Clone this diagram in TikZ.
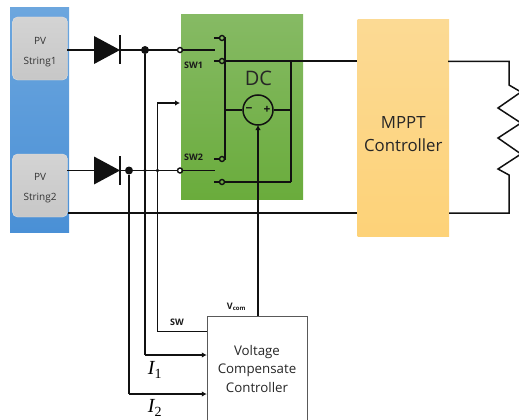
\documentclass[tikz,border=0pt]{standalone}
\usepackage{fontspec}
\setmainfont{Open Sans}
\newfontfamily\timesf{Liberation Serif}
\usetikzlibrary{arrows.meta,calc}
\definecolor{wirec}{HTML}{111111}
\tikzset{
  wire/.style={draw=wirec,line width=1.5pt},
  heavy/.style={draw=wirec,line width=1.9pt},
  arr/.style={wire,-{Latex[length=5pt,width=5.5pt]}},
  terminal/.style={circle,draw=wirec,line width=1.4pt,minimum size=5pt,inner sep=0pt},
  bigdot/.style={circle,fill=wirec,minimum width=5.5pt,minimum height=8pt,inner sep=0pt},
  smalldot/.style={circle,fill=wirec,minimum size=3.6pt,inner sep=0pt},
  pvbox/.style={rectangle,rounded corners=5pt,minimum width=55pt,minimum height=63pt,inner sep=0pt,
     top color=black!17,bottom color=black!22,draw=black!12},
  pvtext/.style={align=center,inner sep=0pt,font=\fontsize{10}{20.5}\selectfont,text=black!80},
  lbl/.style={inner sep=0pt,font=\fontsize{9}{10}\selectfont\bfseries,text=black!90},
}
\begin{document}
\begin{tikzpicture}[x=1pt,y=-1pt]
\useasboundingbox (0,0) rectangle (519,420);
% panels
\shade[top color={rgb,255:red,108;green,166;blue,222},bottom color={rgb,255:red,74;green,144;blue,214}] (10,8) rectangle (69,232);
\node[pvbox] (pv1) at (40,48.5) {};
\node[pvbox] (pv2) at (40,185.5) {};
\node[pvtext] at (40,52) {PV\\String1};
\node[pvtext] at (40,188) {PV\\String2};
\node[rectangle,minimum width=122pt,minimum height=184pt,inner sep=0pt,top color={rgb,255:red,134;green,186;blue,100},bottom color={rgb,255:red,106;green,172;blue,60}] (dc) at (242,107) {};
\node[rectangle,minimum width=91.5pt,minimum height=216pt,inner sep=0pt,top color={rgb,255:red,252;green,218;blue,148},bottom color={rgb,255:red,253;green,210;blue,120}] (mppt) at (403.25,128) {};
\node[align=center,inner sep=0pt,font=\fontsize{16.8}{23}\selectfont,text=black!85] (mpptt) at (403.25,134) {MPPT\\Controller};
\node[rectangle,draw=black!65,line width=0.8pt,fill=white,minimum width=100.5pt,minimum height=120pt,inner sep=0pt,anchor=north west] (vcc) at (206.8,315.7) {};
\node[align=center,font=\fontsize{13.3}{18.4}\selectfont,text=black!85,inner sep=0pt] (vcct) at (257,369) {Voltage\\Compensate\\Controller};
% coordinates
\coordinate (a1) at (67,50);
\coordinate (d1in) at (94,50);
\coordinate (d1out) at (120,50);
\coordinate (a2) at (67,170.5);
\coordinate (d2in) at (94,170.5);
\coordinate (d2out) at (120,170.5);
\node[terminal] (s1in) at (180,50) {};
\node[terminal] (s2in) at (180,170.5) {};
\node[terminal] (t1) at (222,38) {};
\node[terminal] (t2) at (222,61) {};
\node[terminal] (t3) at (222,159) {};
\node[terminal] (t4) at (222,182) {};
\coordinate (s1arm) at (215,50);
\coordinate (s2arm) at (215,170.5);
\coordinate (t1s) at (214,38);
\coordinate (t2s) at (214,61);
\coordinate (t3s) at (214,159);
\coordinate (t4s) at (214,182);
\coordinate (bus1) at (225,38);
\coordinate (bus2) at (225,159);
\coordinate (busm) at (225,110);
\coordinate (r1) at (291,61);
\coordinate (r2) at (291,182);
\coordinate (rm) at (291,110);
\node[circle,draw=wirec,line width=1.5pt,minimum size=30pt,inner sep=0pt] (src) at (258,110) {};
\node[smalldot,minimum size=3pt] (j3) at (258,182) {};
\node[bigdot] (j1) at (145,50) {};
\node[bigdot] (j2) at (129,170.5) {};
\node[smalldot] (j4) at (145,170.5) {};
\node[smalldot] (j5) at (157.5,170.5) {};
\coordinate (swt) at (157.5,103);
\coordinate (swb) at (157.5,331.7);
\coordinate (dcl) at (180,103);
\coordinate (i1b) at (145,355);
\coordinate (i2b) at (129,394);
% diodes
\fill[wirec] (94,36) -- (120,50) -- (94,64) -- cycle;
\fill[wirec] (94,156.5) -- (120,170.5) -- (94,184.5) -- cycle;
\coordinate (b1a) at (120,35.5); \coordinate (b1b) at (120,64.5);
\coordinate (b2a) at (120,156); \coordinate (b2b) at (120,185);
\draw[wire] (b1a) -- (b1b);
\draw[wire] (b2a) -- (b2b);
% wires
\draw[wire] (a1) -- (d1in);
\draw[wire] (d1out) -- (s1in);
\draw[wire] (a2) -- (d2in);
\draw[wire] (d2out) -- (s2in);
\draw[wire] (s1in) -- (s1arm);
\draw[wire] (s2in) -- (s2arm);
\draw[wire] (t1s) -- (t1);
\draw[wire] (t2s) -- (t2);
\draw[wire] (t3s) -- (t3);
\draw[wire] (t4s) -- (t4) -- (r2);
\draw[wire] (bus1) -- (bus2);
\draw[wire] (t1) -- (bus1);
\draw[wire] (t3) -- (bus2);
\draw[wire] (t2) -- (mppt.west |- t2);
\draw[wire] (r1) -- (r2);
\draw[wire] (busm) -- (src);
\draw[wire] (src) -- (rm);
\coordinate (srcbot) at (258,125);
\coordinate (vcctop) at (258,315.7);
\draw[arr] (vcctop) -- (srcbot);
\draw[wire] (j1) -- (i1b);
\draw[arr] (i1b) -- (vcc.west |- i1b);
\draw[wire] (j2) -- (i2b);
\draw[arr] (i2b) -- (vcc.west |- i2b);
\draw[arr] (swb) -- (swt) -- (dcl);
\draw[wire] (swb) -- (vcc.west |- swb);
% ground
\coordinate (g1) at (68,213);
\draw[heavy] (g1) -- (mppt.west |- g1);
% load
\coordinate (o1) at (448,61.5);
\coordinate (o2) at (509,61.5);
\coordinate (g2) at (449,213);
\coordinate (g3) at (509,213);
\draw[wire,line join=miter] (o1) -- (o2) -- (509,85) -- (521,92) -- (498,108) -- (521,123) -- (498,138) -- (521,154) -- (498,169) -- (509,175) -- (g3) -- (g2);
% symbols and labels
\node[inner sep=0pt,font=\fontsize{12}{12}\selectfont\bfseries,text=wirec] at (249,110) {−};
\node[inner sep=0pt,font=\fontsize{12}{12}\selectfont\bfseries,text=wirec] at (267,110) {+};
\node[inner sep=0pt,font=\fontsize{20}{20}\selectfont,text=black!85] at (258.5,78) {DC};
\node[lbl] at (193.5,65) {SW1};
\node[lbl] at (193.5,157) {SW2};
\node[lbl] at (177,322) {SW};
\node[lbl] at (236.5,307) {V\textsubscript{com}};
\node[inner sep=0pt,font=\timesf\fontsize{20}{20}\selectfont\itshape] at (155,370) {I\textsubscript{\upshape 1}};
\node[inner sep=0pt,font=\timesf\fontsize{20}{20}\selectfont\itshape] at (155,408) {I\textsubscript{\upshape 2}};
\end{tikzpicture}
\end{document}
